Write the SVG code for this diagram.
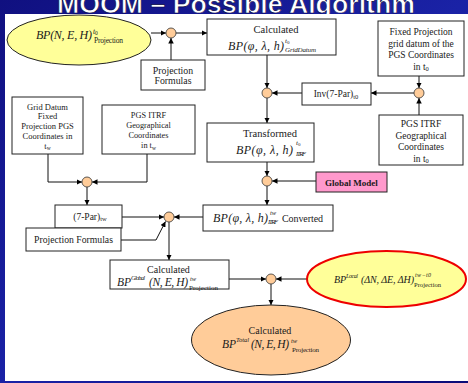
<svg xmlns="http://www.w3.org/2000/svg" width="468" height="383" viewBox="0 0 468 383">
<defs>
<linearGradient id="bg" x1="0" y1="0" x2="1" y2="1">
<stop offset="0" stop-color="#101080"/>
<stop offset="0.5" stop-color="#1a22a6"/>
<stop offset="1" stop-color="#0c0c78"/>
</linearGradient>
<marker id="ah" viewBox="0 0 10 10" refX="10" refY="5" markerWidth="5.5" markerHeight="5.5" orient="auto" markerUnits="userSpaceOnUse">
<path d="M0,0 L10,5 L0,10 z" fill="#000"/>
</marker>
<style>
.box{fill:#fff;stroke:#222;stroke-width:1}
.dot{fill:#FFCC99;stroke:#333;stroke-width:0.8}
.t{font-family:"Liberation Serif","Times New Roman",serif;fill:#1a1a1a}
.m{font-style:italic}
.c{text-anchor:middle}
#connectors path{fill:none;stroke:#111;stroke-width:1;marker-end:url(#ah)}
</style>
</defs>
<rect x="0" y="0" width="468" height="383" fill="url(#bg)"/>
<text x="57" y="13" font-family="Liberation Sans, Arial, sans-serif" font-weight="bold" font-size="26" textLength="358" lengthAdjust="spacingAndGlyphs" fill="#fff" stroke="#000040" stroke-width="0.6">MOOM – Possible Algorithm</text>
<rect x="5" y="14" width="463" height="367" fill="#fff"/>

<g id="connectors">
<path d="M151,33 L166,33"/>
<path d="M176,33 L207,33"/>
<path d="M171,60 L171,38"/>
<path d="M267,55 L267,88"/>
<path d="M419,76 L419,88"/>
<path d="M414,93 L371,93"/>
<path d="M302,93 L272,93"/>
<path d="M419,115 L419,98"/>
<path d="M267,98 L267,123"/>
<path d="M267,162 L267,176"/>
<path d="M316,181 L272,181"/>
<path d="M267,186 L267,205"/>
<path d="M203,217 L174,217"/>
<path d="M122,217 L164,217"/>
<path d="M121,240 L156,240 L165.5,221.5"/>
<path d="M48,154 L48,182 L82,182"/>
<path d="M147,154 L147,182 L92,182"/>
<path d="M87,187 L87,205"/>
<path d="M169,222 L169,260"/>
<path d="M229,279 L266,279"/>
<path d="M307,279 L276,279"/>
<path d="M271,284 L271,305"/>
</g>

<g id="n-bp-t0">
<ellipse cx="79" cy="40" rx="72" ry="25" fill="#FFFF99" stroke="#222" stroke-width="1"/>
<text x="36" y="39" font-size="12" textLength="56" lengthAdjust="spacing" class="t m">BP(N, E, H)</text>
<text x="93" y="34" font-size="7.5" class="t m">t<tspan font-style="normal" font-size="5.5" dy="1">0</tspan></text>
<text x="94" y="43" font-size="7.5" textLength="29" lengthAdjust="spacing" class="t">Projection</text>
</g>

<g id="n-proj-formulas-1">
<rect class="box" x="141" y="60" width="64" height="30"/>
<text x="173" y="73.5" font-size="9.8" class="t c">Projection</text>
<text x="173" y="84" font-size="9.8" class="t c">Formulas</text>
</g>

<g id="n-calc-grid">
<rect class="box" x="207" y="19" width="129" height="36"/>
<text x="276" y="32.5" font-size="10.5" class="t c">Calculated</text>
<text x="228" y="50" font-size="12" textLength="56" lengthAdjust="spacing" class="t m">BP(φ, λ, h)</text>
<text x="285" y="42.5" font-size="7" class="t m">t<tspan font-style="normal" font-size="5" dy="1">0</tspan></text>
<text x="285" y="51.5" font-size="7" textLength="31" lengthAdjust="spacing" class="t m">GridDatum</text>
</g>

<g id="n-fixed">
<rect class="box" x="378" y="21" width="86" height="55"/>
<text x="421" y="35" font-size="9.5" class="t c">Fixed Projection</text>
<text x="421" y="46.5" font-size="9.5" class="t c">grid datum of the</text>
<text x="421" y="58" font-size="9.5" class="t c">PGS Coordinates</text>
<text x="421" y="69.5" font-size="9.5" class="t c">in t<tspan font-size="6.5" dy="1.5">0</tspan></text>
</g>

<g id="n-inv">
<rect class="box" x="302" y="83" width="69" height="22"/>
<text x="336" y="97" font-size="9.5" class="t c">Inv(7-Par)<tspan font-size="6.5" dy="1.5">t0</tspan></text>
</g>

<g id="n-pgs-t0">
<rect class="box" x="379" y="115" width="84" height="50"/>
<text x="421" y="126.5" font-size="9.5" class="t c">PGS ITRF</text>
<text x="421" y="138.5" font-size="9.5" class="t c">Geographical</text>
<text x="421" y="150" font-size="9.5" class="t c">Coordinates</text>
<text x="421" y="161.5" font-size="9.5" class="t c">in t<tspan font-size="6.5" dy="1.5">0</tspan></text>
</g>

<g id="n-transformed">
<rect class="box" x="207" y="123" width="107" height="39"/>
<text x="270" y="137" font-size="10.5" class="t c">Transformed</text>
<text x="236" y="154" font-size="12" textLength="57" lengthAdjust="spacing" class="t m">BP(φ, λ, h)</text>
<text x="296" y="145" font-size="7" class="t m">t<tspan font-style="normal" font-size="5" dy="1">0</tspan></text>
<text x="296" y="156" font-size="6.5" textLength="10" lengthAdjust="spacing" class="t m">ITRF</text>
</g>

<g id="n-global-model">
<rect x="316" y="172" width="71" height="20" fill="#FF99CC" stroke="#222" stroke-width="1"/>
<text x="351.5" y="185.5" font-size="9" font-weight="bold" class="t c">Global Model</text>
</g>

<g id="n-grid-datum">
<rect class="box" x="12" y="97" width="71" height="57"/>
<text x="47.5" y="109.5" font-size="8.5" class="t c">Grid Datum</text>
<text x="47.5" y="119" font-size="8.5" class="t c">Fixed</text>
<text x="47.5" y="129" font-size="8.5" class="t c">Projection PGS</text>
<text x="47.5" y="139" font-size="8.5" class="t c">Coordinates in</text>
<text x="47.5" y="148.5" font-size="8.5" class="t c">t<tspan font-size="5.5" dy="1.5">w</tspan></text>
</g>

<g id="n-pgs-tw">
<rect class="box" x="102" y="105" width="93" height="49"/>
<text x="148.5" y="118" font-size="8.3" class="t c">PGS ITRF</text>
<text x="148.5" y="128" font-size="8.3" class="t c">Geographical</text>
<text x="148.5" y="138" font-size="8.3" class="t c">Coordinates</text>
<text x="148.5" y="148" font-size="8.3" class="t c">in t<tspan font-size="5.5" dy="1.5">w</tspan></text>
</g>

<g id="n-7par">
<rect class="box" x="55" y="205" width="67" height="23"/>
<text x="90" y="219.5" font-size="9.5" class="t c">(7-Par)<tspan font-size="6.5" dy="1.5">tw</tspan></text>
</g>

<g id="n-proj-formulas-2">
<rect class="box" x="26" y="228" width="95" height="23"/>
<text x="73.5" y="242.5" font-size="9.7" class="t c">Projection Formulas</text>
</g>

<g id="n-converted">
<rect class="box" x="203" y="205" width="130" height="26"/>
<text x="213" y="221.5" font-size="12" textLength="55" lengthAdjust="spacing" class="t m">BP(φ, λ, h)</text>
<text x="270" y="215" font-size="6.5" class="t m">tw</text>
<text x="268" y="224" font-size="6.5" textLength="10" lengthAdjust="spacing" class="t m">ITRF</text>
<text x="282" y="222" font-size="10" textLength="41" lengthAdjust="spacing" class="t">Converted</text>
</g>

<g id="n-calc-global">
<rect class="box" x="110" y="260" width="119" height="29"/>
<text x="168.5" y="273" font-size="10" class="t c">Calculated</text>
<text x="117" y="286" font-size="11.5" textLength="14" lengthAdjust="spacing" class="t m">BP</text>
<text x="131" y="280" font-size="6.5" textLength="14" lengthAdjust="spacing" class="t m">Global</text>
<text x="149" y="286" font-size="11.5" textLength="39" lengthAdjust="spacing" class="t m">(N, E, H)</text>
<text x="190" y="281" font-size="6.5" class="t m">tw</text>
<text x="189" y="289.5" font-size="7" textLength="29" lengthAdjust="spacing" class="t">Projection</text>
</g>

<g id="n-local">
<ellipse cx="386.5" cy="279" rx="79.5" ry="28" fill="#FFFF99" stroke="#EE0000" stroke-width="2"/>
<text x="334" y="283" font-size="10" textLength="12" lengthAdjust="spacing" class="t m">BP</text>
<text x="346" y="278" font-size="6" textLength="12" lengthAdjust="spacing" class="t m">Local</text>
<text x="361" y="283" font-size="10" textLength="53" lengthAdjust="spacing" class="t m">(ΔN, ΔE, ΔH)</text>
<text x="415" y="277" font-size="6" textLength="16" lengthAdjust="spacing" class="t m">tw−t0</text>
<text x="414" y="287" font-size="6.5" textLength="27" lengthAdjust="spacing" class="t">Projection</text>
</g>

<g id="n-total">
<ellipse cx="271" cy="340" rx="79.5" ry="35" fill="#FFCC99" stroke="#222" stroke-width="1"/>
<text x="270" y="334" font-size="10" class="t c">Calculated</text>
<text x="222" y="348" font-size="11.5" textLength="14" lengthAdjust="spacing" class="t m">BP</text>
<text x="236" y="342" font-size="6.5" textLength="13" lengthAdjust="spacing" class="t m">Total</text>
<text x="251" y="348" font-size="11.5" textLength="38" lengthAdjust="spacing" class="t m">(N, E, H)</text>
<text x="291" y="342.5" font-size="6.5" class="t m">tw</text>
<text x="292" y="351.5" font-size="7" textLength="27" lengthAdjust="spacing" class="t">Projection</text>
</g>

<g id="dots">
<circle class="dot" cx="171" cy="33" r="5"/>
<circle class="dot" cx="267" cy="93" r="5"/>
<circle class="dot" cx="419" cy="93" r="5"/>
<circle class="dot" cx="267" cy="181" r="5"/>
<circle class="dot" cx="87" cy="182" r="5"/>
<circle class="dot" cx="169" cy="217" r="5"/>
<circle class="dot" cx="271" cy="279" r="5"/>
</g>
</svg>
